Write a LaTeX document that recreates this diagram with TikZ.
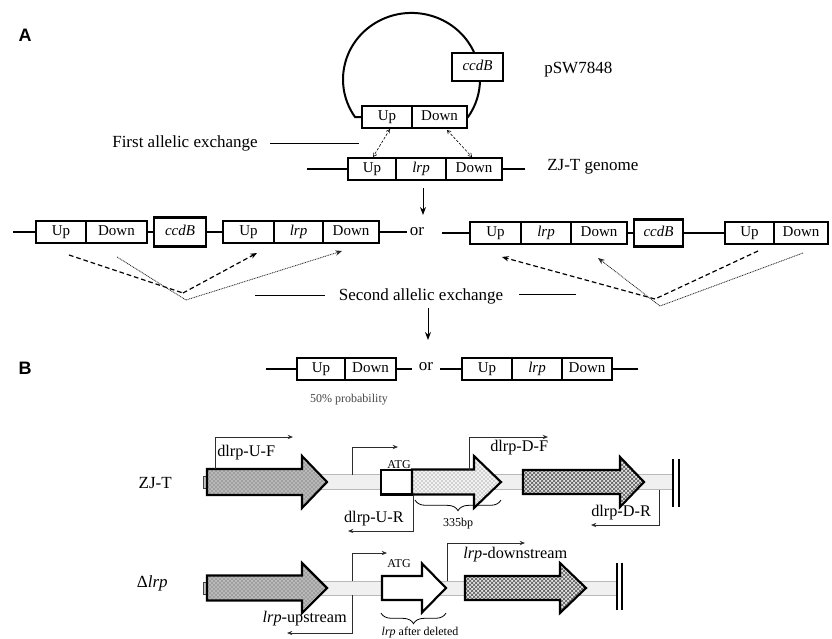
\documentclass[tikz,border=0pt]{standalone}
\usepackage{fontspec}
\setmainfont{Liberation Serif}
\newfontfamily\labfont{Liberation Sans}
\usetikzlibrary{arrows.meta,patterns,decorations.pathreplacing}
\pgfdeclarelayer{background}
\pgfsetlayers{background,main}
\newcommand\fmain{\fontsize{12.75pt}{15pt}\selectfont}
\newcommand\fbx{\fontsize{11.25pt}{13pt}\selectfont}
\newcommand\fsm{\fontsize{9pt}{11pt}\selectfont}
\newcommand\fpr{\fontsize{12.2pt}{14pt}\selectfont}
\newcommand\genearrow[7]{\draw[#1] (#2,#5-#6) -- (#3,#5-#6) -- (#3,#5-#7) -- (#4,#5) -- (#3,#5+#7) -- (#3,#5+#6) -- (#2,#5+#6) -- cycle;}
\begin{document}
\begin{tikzpicture}[x=0.75pt,y=-0.75pt,
  gb/.style={draw, line width=1.6pt, fill=white, inner sep=0pt, outer sep=0pt, minimum height=16.5pt, anchor=west, font=\fbx, text height=8pt, text depth=2.5pt},
  txt/.style={font=\fmain, inner sep=0pt},
  lab/.style={font=\labfont\bfseries\fontsize{13.5pt}{15pt}\selectfont, inner sep=0pt},
  bb/.style={line width=1.7pt},
  thinl/.style={line width=0.75pt},
  pl/.style={line width=1.5pt},
  darr/.style={line width=0.75pt, -{Stealth[length=6pt,width=4.5pt]}},
  xarr/.style={line width=0.45pt, dash pattern=on 2pt off 1.2pt, {Straight Barb[length=2.5pt,width=3pt]}-{Straight Barb[length=2.5pt,width=3pt]}},
  dsh/.style={line width=0.9pt, dash pattern=on 3.5pt off 2.2pt},
  dtt/.style={line width=0.6pt, dash pattern=on 0.7pt off 0.6pt, black!85},
  tipS/.style={-{Stealth[length=5pt,width=4pt]}},
  bar/.style={fill=gray!12, draw=gray!55, line width=0.5pt},
  gbor/.style={draw=black, line width=1.6pt},
  upg/.style={gbor, preaction={fill=gray!55}, preaction={pattern=crosshatch dots, pattern color=black!70}},
  midg/.style={gbor, preaction={fill=gray!10}, preaction={pattern=crosshatch dots, pattern color=gray!80!black}},
  rtg/.style={gbor, preaction={fill=gray!22}, preaction={pattern=crosshatch, pattern color=gray!65!black}},
  whg/.style={gbor, fill=white},
  prim/.style={draw=gray!35!black, line width=0.6pt, -{Stealth[length=4pt,width=3.2pt]}},
  brc/.style={decorate, decoration={brace, mirror, amplitude=8pt}, line width=0.6pt},
  tab/.style={fill=gray!45, draw=gray!50!black, line width=0.5pt},
  ptxt/.style={font=\fpr, inner sep=0pt},
  stxt/.style={font=\fsm, inner sep=0pt}
]
\useasboundingbox (0,0) rectangle (832,639);

% panel labels
\node[lab] (labA) at (25,35) {A};
\node[lab] (labB) at (25,368) {B};

% ---------- plasmid ----------
\node[gb, minimum width=37.5pt] (P1) at (362,117) {Up};
\node[gb, minimum width=41.25pt] (P2) at (P1.east) {Down};
\node[gb, minimum width=38.25pt, minimum height=21pt, anchor=center] (PC) at (477.5,67) {\textit{ccdB}};
\begin{pgfonlayer}{background}
\draw[pl] (P1.west) -- ++(-7,0) arc[start angle=145.6, end angle=394.4, x radius=68.5, y radius=66.5] -- (P2.east);
\end{pgfonlayer}
\node[txt, anchor=west] (psw) at (544,70) {pSW7848};

\node[txt] (fae) at (185,143) {First allelic exchange};
\coordinate (fae1) at (270,143);
\coordinate (fae2) at (359,143);
\draw[thinl] (fae1) -- (fae2);

% ---------- genome ----------
\node[gb, minimum width=36pt] (G1) at (348,169) {Up};
\node[gb, minimum width=37.5pt] (G2) at (G1.east) {\textit{lrp}};
\node[gb, minimum width=42pt] (G3) at (G2.east) {Down};
\coordinate (g0) at (307,169);
\coordinate (g4) at (525,169);
\draw[bb] (g0) -- (G1.west);
\draw[bb] (G3.east) -- (g4);
\node[txt, anchor=west] (zjg) at (547,167) {ZJ-T genome};

\coordinate (a1s) at (390,129);
\coordinate (a1e) at (373,157);
\coordinate (a2s) at (447,130);
\coordinate (a2e) at (472,157);
\draw[xarr] (a1s) -- (a1e);
\draw[xarr] (a2s) -- (a2e);

\coordinate (d1s) at (423,188);
\coordinate (d1e) at (423,215);
\draw[darr] (d1s) -- (d1e);

% ---------- row 2 left ----------
\coordinate (r2l0) at (13,232);
\node[gb, minimum width=37.5pt] (U1) at (36,232) {Up};
\node[gb, minimum width=45.75pt] (D1) at (U1.east) {Down};
\node[gb, minimum width=39pt, minimum height=21.75pt] (C1) at (154,232) {\textit{ccdB}};
\node[gb, minimum width=38.25pt] (U2) at (223,232) {Up};
\node[gb, minimum width=36.75pt] (L2) at (U2.east) {\textit{lrp}};
\node[gb, minimum width=42pt] (D2) at (L2.east) {Down};
\coordinate (r2l1) at (407,232);
\draw[bb] (r2l0) -- (U1.west);
\draw[bb] (D1.east) -- (C1.west);
\draw[bb] (C1.east) -- (U2.west);
\draw[bb] (D2.east) -- (r2l1);

\node[txt] (or1) at (417,232) {or};

% ---------- row 2 right ----------
\coordinate (r2r0) at (442,233);
\node[gb, minimum width=38.25pt] (U3) at (470,233) {Up};
\node[gb, minimum width=37.5pt] (L3) at (U3.east) {\textit{lrp}};
\node[gb, minimum width=42pt] (D3) at (L3.east) {Down};
\node[gb, minimum width=36.75pt, minimum height=20.25pt] (C3) at (634,233) {\textit{ccdB}};
\node[gb, minimum width=36.75pt] (U4) at (725,233) {Up};
\node[gb, minimum width=40.5pt] (D4) at (U4.east) {Down};
\draw[bb] (r2r0) -- (U3.west);
\draw[bb] (D3.east) -- (C3.west);
\draw[bb] (C3.east) -- (U4.west);

% exchange lines left
\coordinate (ld1) at (69,255);
\coordinate (ldA) at (183,293);
\coordinate (ld2) at (257,253);
\coordinate (lt1) at (117,257);
\coordinate (ltA) at (186,300);
\coordinate (lt2) at (342,251);
\draw[dsh] (ld1) -- (ldA);
\draw[dsh, tipS] (ldA) -- (ld2);
\draw[dtt] (lt1) -- (ltA);
\draw[dtt, tipS] (ltA) -- (lt2);
% exchange lines right
\coordinate (rd1) at (758,251);
\coordinate (rdA) at (655,299);
\coordinate (rd2) at (502,257);
\coordinate (rt1) at (803,253);
\coordinate (rtA) at (660,306);
\coordinate (rt2) at (598,258);
\draw[dsh] (rd1) -- (rdA);
\draw[dsh, tipS] (rdA) -- (rd2);
\draw[dtt] (rt1) -- (rtA);
\draw[dtt, tipS] (rtA) -- (rt2);

\node[txt] (sae) at (421,296) {Second allelic exchange};
\coordinate (s1a) at (255,295);
\coordinate (s1b) at (325,295);
\coordinate (s2a) at (519,294);
\coordinate (s2b) at (576,294);
\draw[thinl] (s1a) -- (s1b);
\draw[thinl] (s2a) -- (s2b);

\coordinate (d2s) at (428,308);
\coordinate (d2e) at (428,340);
\draw[darr] (d2s) -- (d2e);

% ---------- result row ----------
\coordinate (rr0) at (266,369);
\node[gb, minimum width=36pt] (R1) at (297,369) {Up};
\node[gb, minimum width=38.25pt] (R2) at (R1.east) {Down};
\coordinate (rr1) at (412,369);
\draw[bb] (rr0) -- (R1.west);
\draw[bb] (R2.east) -- (rr1);
\node[txt] (or2) at (426,367) {or};
\coordinate (rr2) at (440,369);
\node[gb, minimum width=37.5pt] (R3) at (462,369) {Up};
\node[gb, minimum width=37.5pt] (R4) at (R3.east) {\textit{lrp}};
\node[gb, minimum width=37.5pt] (R5) at (R4.east) {Down};
\coordinate (rr3) at (638,369);
\draw[bb] (rr2) -- (R3.west);
\draw[bb] (R5.east) -- (rr3);
\node[stxt, text=gray!55!black] (prob) at (349,400) {50\% probability};

% ---------- panel B : ZJ-T ----------
\node[txt, anchor=east] (zjt) at (172,483) {ZJ-T};
\draw[bar] (300,474.5) rectangle (673,489.5);
\draw[tab] (203,476) rectangle (207,488);
\genearrow{upg}{207}{302}{327}{482}{13}{26}
\draw[whg] (381,470) rectangle (412,494.5);
\genearrow{midg}{412}{474}{501}{482}{12.5}{26}
\genearrow{rtg}{523}{620}{644}{482}{12}{25}
\draw[line width=1pt] (673,459) -- (673,507);
\draw[line width=1pt] (679,459) -- (679,507);

\coordinate (uf0) at (215,469);
\coordinate (uf1) at (215,437);
\coordinate (uf2) at (293,437);
\draw[prim] (uf0) -- (uf1) -- (uf2);
\node[ptxt, anchor=west] (tuf) at (217,453) {dlrp-U-F};

\coordinate (at0) at (352,474.5);
\coordinate (at1) at (352,447);
\coordinate (at2) at (398,447);
\draw[prim] (at0) -- (at1) -- (at2);
\node[stxt] (atg1) at (399,465) {ATG};

\coordinate (df0) at (469,469.5);
\coordinate (df1) at (469,437);
\coordinate (df2) at (548,437);
\draw[prim] (df0) -- (df1) -- (df2);
\node[ptxt, anchor=west] (tdf) at (490,448) {dlrp-D-F};

\coordinate (ur0) at (413,494.5);
\coordinate (ur1) at (413,531);
\coordinate (ur2) at (348,531);
\draw[prim] (ur0) -- (ur1) -- (ur2);
\node[ptxt, anchor=east] (tur) at (404,519) {dlrp-U-R};

\coordinate (dr0) at (659,489.5);
\coordinate (dr1) at (659,525);
\coordinate (dr2) at (591,525);
\draw[prim] (dr0) -- (dr1) -- (dr2);
\node[ptxt, anchor=west] (tdr) at (591,513) {dlrp-D-R};

\coordinate (b1a) at (415,500);
\coordinate (b1b) at (501,500);
\draw[brc] (b1a) -- (b1b);
\node[stxt] (bp) at (458,524) {335bp};

% ---------- panel B : delta lrp ----------
\node[txt, anchor=east] (dl) at (168,583) {Δ\textit{lrp}};
\draw[bar] (300,581) rectangle (617,595);
\draw[tab] (203,582) rectangle (207,594);
\genearrow{upg}{207}{302}{327}{588}{12.5}{25}
\genearrow{whg}{382}{422}{446}{588}{12}{24.5}
\genearrow{rtg}{465}{560}{586}{588}{12}{25}
\draw[line width=1pt] (617,563) -- (617,610);
\draw[line width=1pt] (622,563) -- (622,610);

\coordinate (at3) at (352,581);
\coordinate (at4) at (352,553);
\coordinate (at5) at (387,553);
\draw[prim] (at3) -- (at4) -- (at5);
\node[stxt] (atg2) at (399,564) {ATG};

\coordinate (ds0) at (447,581);
\coordinate (ds1) at (447,543);
\coordinate (ds2) at (525,543);
\draw[prim] (ds0) -- (ds1) -- (ds2);
\node[ptxt, anchor=west] (tds) at (463,555) {\textit{lrp}-downstream};

\coordinate (us0) at (352,595);
\coordinate (us1) at (352,633);
\coordinate (us2) at (287,633);
\draw[prim] (us0) -- (us1) -- (us2);
\node[ptxt, anchor=east] (tus) at (347,619) {\textit{lrp}-upstream};

\coordinate (b2a) at (381,613);
\coordinate (b2b) at (446,613);
\draw[brc] (b2a) -- (b2b);
\node[stxt] (lad) at (420,633) {\textit{lrp} after deleted};
\end{tikzpicture}
\end{document}
